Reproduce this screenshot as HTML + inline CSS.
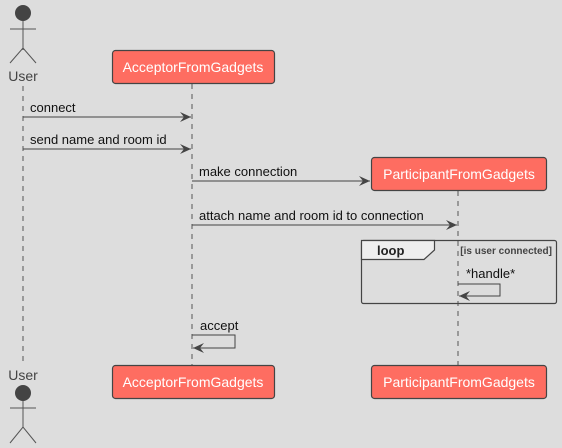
<!DOCTYPE html>
<html><head><meta charset="utf-8"><style>
html,body{margin:0;padding:0;background:#dddddd;}
svg{display:block;font-family:"Liberation Sans","DejaVu Sans",sans-serif;}
</style></head><body>
<svg width="562" height="448" viewBox="0 0 562 448" xmlns="http://www.w3.org/2000/svg">
<rect width="562" height="448" fill="#dddddd"/>
<defs>
<marker id="a" markerWidth="12" markerHeight="10" refX="11" refY="5" orient="auto" markerUnits="userSpaceOnUse">
<path d="M0,0 L11,5 L0,10 L4,5 Z" fill="#444"/>
</marker>
</defs>
<g stroke="#555" stroke-dasharray="5,5" stroke-width="1">
<line x1="23" y1="86" x2="23" y2="366"/>
<line x1="192" y1="84" x2="192" y2="365"/>
<line x1="458" y1="191" x2="458" y2="365"/>
</g>
<!-- top actor -->
<g stroke="#555" stroke-width="1" fill="none">
<line x1="23" y1="21" x2="23" y2="50"/>
<line x1="10" y1="29" x2="36" y2="29"/>
<path d="M10,63 L23,48 L36,63"/>
</g>
<circle cx="23" cy="13" r="8" fill="#444"/>
<text x="23" y="81" font-size="14" fill="#444" text-anchor="middle">User</text>
<!-- bottom actor -->
<text x="23" y="380" font-size="14" fill="#444" text-anchor="middle">User</text>
<circle cx="23" cy="393" r="8" fill="#444"/>
<g stroke="#555" stroke-width="1" fill="none">
<line x1="23" y1="401" x2="23" y2="428"/>
<line x1="10" y1="408" x2="36" y2="408"/>
<path d="M10,443 L23,427 L36,443"/>
</g>
<!-- boxes -->
<g fill="#fe6d61" stroke="#444" stroke-width="1.2">
<rect x="112.5" y="50.5" width="162" height="33" rx="3"/>
<rect x="112.5" y="365.5" width="162" height="33" rx="3"/>
<rect x="371.5" y="157.5" width="175" height="33" rx="3"/>
<rect x="371.5" y="365.5" width="175" height="33" rx="3"/>
</g>
<g font-size="14" fill="#fff" text-anchor="middle">
<text x="193" y="72">AcceptorFromGadgets</text>
<text x="193" y="387">AcceptorFromGadgets</text>
<text x="459" y="179">ParticipantFromGadgets</text>
<text x="459" y="387">ParticipantFromGadgets</text>
</g>
<!-- messages -->
<g stroke="#444" stroke-width="1" fill="none">
<line x1="23" y1="117" x2="191" y2="117" marker-end="url(#a)"/>
<line x1="23" y1="149" x2="191" y2="149" marker-end="url(#a)"/>
<line x1="192" y1="181" x2="370" y2="181" marker-end="url(#a)"/>
<line x1="192" y1="225" x2="457" y2="225" marker-end="url(#a)"/>
<path d="M458,284 L500,284 L500,296 L459,296" marker-end="url(#a)"/>
<path d="M192,335 L235,335 L235,348 L193,348" marker-end="url(#a)"/>
</g>
<g font-size="13" fill="#111">
<text x="30" y="112">connect</text>
<text x="30" y="144">send name and room id</text>
<text x="199" y="176">make connection</text>
<text x="199" y="220">attach name and room id to connection</text>
<text x="466" y="278">*handle*</text>
<text x="200" y="330">accept</text>
</g>
<!-- loop frame -->
<rect x="361.5" y="240.5" width="195" height="63" rx="2" fill="none" stroke="#444" stroke-width="1.2"/>
<path d="M361.5,240.5 L434.5,240.5 L434.5,250 L424,259.5 L361.5,259.5 Z" fill="#eeeeee" stroke="#444" stroke-width="1.2"/>
<text x="377" y="255" font-size="13" font-weight="bold" fill="#222">loop</text>
<text x="552" y="254" font-size="10" font-weight="bold" fill="#444" text-anchor="end">[is user connected]</text>
</svg>
</body></html>
